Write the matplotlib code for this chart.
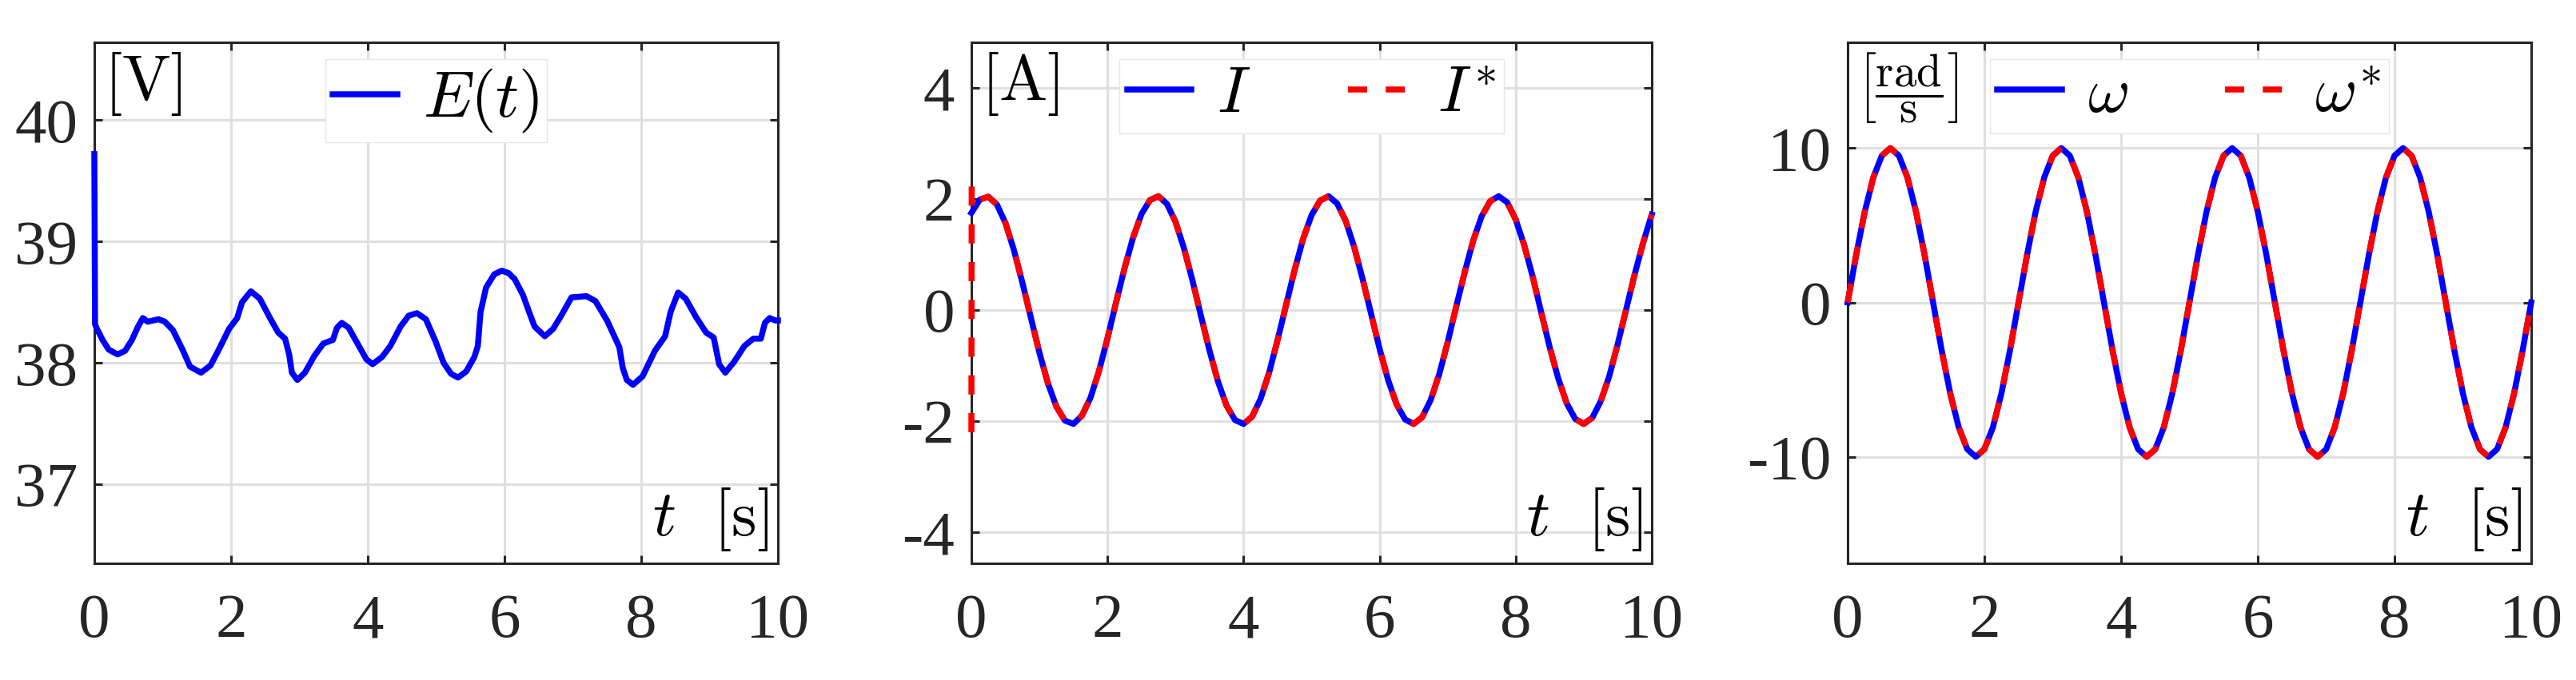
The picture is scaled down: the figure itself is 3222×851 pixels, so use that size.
import matplotlib
matplotlib.use('Agg')
import matplotlib.pyplot as plt

plt.rcParams['font.family'] = ['Liberation Serif', 'DejaVu Serif']
plt.rcParams['mathtext.fontset'] = 'cm'
plt.rcParams['axes.unicode_minus'] = False

# E(t)
e_t = [0.0, 0.01, 0.03, 0.12, 0.21, 0.34, 0.45, 0.55, 0.64, 0.71, 0.78, 0.94,
       1.03, 1.15, 1.29, 1.40, 1.56, 1.70, 1.83, 1.97, 2.09, 2.16, 2.29, 2.42,
       2.57, 2.69, 2.79, 2.85, 2.89, 2.97, 3.08, 3.22, 3.35, 3.49, 3.55, 3.62,
       3.72, 3.86, 3.98, 4.07, 4.21, 4.33, 4.48, 4.60, 4.72, 4.85, 4.99, 5.11,
       5.22, 5.32, 5.44, 5.56, 5.61, 5.65, 5.73, 5.85, 5.96, 6.06, 6.15, 6.27,
       6.36, 6.44, 6.59, 6.71, 6.82, 6.98, 7.20, 7.33, 7.50, 7.68, 7.73, 7.79,
       7.88, 8.02, 8.20, 8.35, 8.43, 8.54, 8.65, 8.80, 8.95, 9.06, 9.14, 9.23,
       9.36, 9.51, 9.64, 9.75, 9.81, 9.88, 9.96, 10.0]
e_v = [39.72, 38.32, 38.29, 38.19, 38.11, 38.07, 38.10, 38.19, 38.30, 38.37, 38.34, 38.36,
       38.34, 38.27, 38.11, 37.97, 37.92, 37.98, 38.12, 38.28, 38.37, 38.50, 38.59, 38.53,
       38.37, 38.25, 38.20, 38.07, 37.92, 37.86, 37.92, 38.06, 38.16, 38.19, 38.29, 38.33,
       38.29, 38.15, 38.03, 37.99, 38.05, 38.14, 38.30, 38.39, 38.41, 38.36, 38.18, 38.00,
       37.91, 37.88, 37.93, 38.05, 38.14, 38.42, 38.62, 38.73, 38.76, 38.74, 38.69, 38.56,
       38.42, 38.30, 38.22, 38.28, 38.38, 38.54, 38.55, 38.51, 38.35, 38.13, 37.96, 37.86,
       37.82, 37.89, 38.10, 38.22, 38.42, 38.58, 38.53, 38.38, 38.25, 38.21, 37.99, 37.92,
       38.01, 38.14, 38.20, 38.20, 38.33, 38.37, 38.35, 38.35]

# current and speed, sampled every 0.125 s from the middle and right panels
t_grid = [k * 0.125 for k in range(81)]
i_vals = [1.75, 1.99, 2.04, 1.90, 1.57, 1.08, 0.49, -0.14, -0.77, -1.32,
          -1.74, -1.99, -2.05, -1.90, -1.58, -1.10, -0.51, 0.13, 0.75, 1.30,
          1.73, 1.98, 2.05, 1.91, 1.59, 1.11, 0.53, -0.11, -0.73, -1.29,
          -1.72, -1.98, -2.05, -1.92, -1.60, -1.13, -0.54, 0.09, 0.72, 1.28,
          1.71, 1.97, 2.05, 1.92, 1.61, 1.14, 0.56, -0.07, -0.70, -1.26,
          -1.70, -1.97, -2.05, -1.93, -1.62, -1.16, -0.58, 0.06, 0.68, 1.25,
          1.69, 1.96, 2.05, 1.94, 1.63, 1.17, 0.60, -0.04, -0.67, -1.23,
          -1.68, -1.96, -2.05, -1.94, -1.64, -1.19, -0.61, 0.02, 0.65, 1.22,
          1.72]
i_star_start_t = [0.0, 0.004]
i_star_start_v = [-2.2, 2.25]
w_vals = [0.0, 3.09, 5.88, 8.09, 9.51, 10.0, 9.51, 8.09, 5.88, 3.09,
          0.0, -3.09, -5.88, -8.09, -9.51, -10.0, -9.51, -8.09, -5.88, -3.09,
          0.0, 3.09, 5.88, 8.09, 9.51, 10.0, 9.51, 8.09, 5.88, 3.09,
          0.0, -3.09, -5.88, -8.09, -9.51, -10.0, -9.51, -8.09, -5.88, -3.09,
          0.0, 3.09, 5.88, 8.09, 9.51, 10.0, 9.51, 8.09, 5.88, 3.09,
          0.0, -3.09, -5.88, -8.09, -9.51, -10.0, -9.51, -8.09, -5.88, -3.09,
          0.0, 3.09, 5.88, 8.09, 9.51, 10.0, 9.51, 8.09, 5.88, 3.09,
          0.0, -3.09, -5.88, -8.09, -9.51, -10.0, -9.51, -8.09, -5.88, -3.09,
          0.0]
w_star_vals = list(w_vals)

x_ticks = [0, 2, 4, 6, 8, 10]
y_ticks = [[37, 38, 39, 40], [-4, -2, 0, 2, 4], [-10, 0, 10]]
y_lims = [(36.35, 40.64), (-4.56, 4.82), (-16.9, 16.85)]
units = [r'$[\mathrm{V}]$', r'$[\mathrm{A}]$',
         r'$\left[\dfrac{\mathrm{rad}}{\mathrm{s}}\right]$']
unit_sizes = [58, 58, 41]

BLUE = '#0000ff'
RED = '#ff0000'
DARK = '#262626'
LW = 5.4

fig = plt.figure(figsize=(32.22, 8.51), dpi=100)
W, H = 3222.0, 851.0
lefts = [118, 1215, 2311]
widths = [855, 851, 855]
top, bottom = 53, 705
axes = [fig.add_axes([l / W, (H - bottom) / H, w / W, (bottom - top) / H])
        for l, w in zip(lefts, widths)]

# MATLAB draws the curves over the box, so no clipping at the frame
ax = axes[0]
ax.plot(e_t, e_v, color=BLUE, lw=LW, label=r'$E(t)$', clip_on=False, zorder=3)

ax = axes[1]
ax.plot(t_grid, i_vals, color=BLUE, lw=LW, label=r'$I$', clip_on=False, zorder=3)
ax.plot(i_star_start_t + t_grid[1:], i_star_start_v + i_vals[1:], color=RED, lw=LW,
        dashes=(3.2, 3.1), label=r'$I^{\!*}$', clip_on=False, zorder=3)

ax = axes[2]
ax.plot(t_grid, w_vals, color=BLUE, lw=LW, label=r'$\omega$', clip_on=False, zorder=3)
ax.plot(t_grid, w_star_vals, color=RED, lw=LW, dashes=(3.2, 3.1),
        label=r'$\omega^{\!*}$', clip_on=False, zorder=3)

for i, ax in enumerate(axes):
    ax.set_xlim(0, 10)
    ax.set_ylim(*y_lims[i])
    ax.set_xticks(x_ticks)
    ax.set_yticks(y_ticks[i])
    ax.grid(True, color='#dfdfdf', lw=2.2)
    ax.set_axisbelow(True)
    for s in ax.spines.values():
        s.set_color(DARK)
        s.set_linewidth(2.2)
    ax.tick_params(axis='both', direction='in', length=7.5, width=2.2, color=DARK,
                   top=True, right=True, labelsize=57, labelcolor=DARK)
    ax.tick_params(axis='x', pad=27)
    ax.tick_params(axis='y', pad=15)
    for lab in ax.get_xticklabels() + ax.get_yticklabels():
        lab.set_fontfamily('Liberation Serif')
    ax.text(12 / widths[i], 1 - 10 / 652, units[i], transform=ax.transAxes,
            ha='left', va='top', fontsize=unit_sizes[i])
    ax.text(1 - 12 / widths[i], 13 / 652, r'$t\ \ [\mathrm{s}]$', transform=ax.transAxes,
            ha='right', va='bottom', fontsize=58)
    leg = ax.legend(loc='upper center', bbox_to_anchor=(0.5, 1 - 21 / 652),
                    borderaxespad=0, ncol=2 if i > 0 else 1, fontsize=58,
                    handlelength=1.0, handletextpad=0.4, columnspacing=1.5,
                    borderpad=0.12, fancybox=False, framealpha=1)
    leg.set_zorder(5)
    leg.get_frame().set_edgecolor('#e6e6e6')
    leg.get_frame().set_linewidth(1.0)

fig.savefig('out.png', dpi=100)
